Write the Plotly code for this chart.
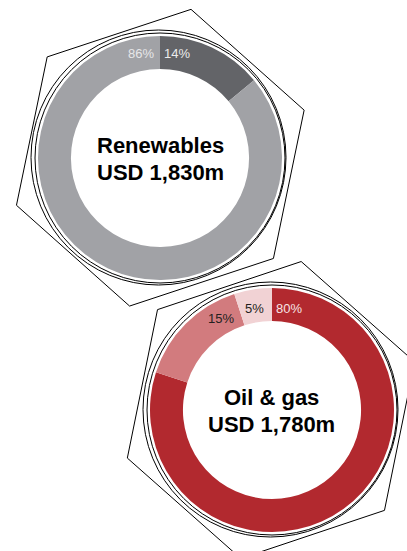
import math
import plotly.graph_objects as go

W, H = 407, 551

# Data
ren_labels = ["Share A", "Share B"]
ren_values = [14, 86]
ren_colors = ["#636468", "#a1a2a6"]
ren_title = ["Renewables", "USD 1,830m"]

og_labels = ["Share A", "Share B", "Share C"]
og_values = [80, 15, 5]
og_colors = ["#b2292f", "#d27b7e", "#f1d2d4"]
og_title = ["Oil & gas", "USD 1,780m"]

# layout geometry (pixels)
top_c = (160, 158)
bot_c = (272, 410)
R = 122
HOLE = 0.73

def domain(c, r):
    cx, cy = c
    return dict(x=[(cx - r) / W, (cx + r) / W], y=[1 - (cy + r) / H, 1 - (cy - r) / H])

fig = go.Figure()
fig.add_trace(go.Pie(labels=ren_labels, values=ren_values, hole=HOLE, sort=False,
                     direction="clockwise", rotation=0, textinfo="none", hoverinfo="label+percent",
                     marker=dict(colors=ren_colors, line=dict(width=0)),
                     domain=domain(top_c, R), showlegend=False))
fig.add_trace(go.Pie(labels=og_labels, values=og_values, hole=HOLE, sort=False,
                     direction="clockwise", rotation=0, textinfo="none", hoverinfo="label+percent",
                     marker=dict(colors=og_colors, line=dict(width=0)),
                     domain=domain(bot_c, R), showlegend=False))

shapes = []
def hexagon(c, r, rot):
    cx, cy = c
    pts = []
    for k in range(6):
        a = math.radians(rot + 60 * k)
        pts.append((cx + r * math.cos(a), cy - r * math.sin(a)))
    return "M " + " L ".join(f"{x:.2f},{y:.2f}" for x, y in pts) + " Z"

for c, hc, rot in [(top_c, (160.3, 157.7), 18.3), (bot_c, (271, 410), 18.5)]:
    cx, cy = c
    line = dict(color="black", width=1)
    shapes.append(dict(type="circle", xref="x", yref="y", x0=cx - 125, x1=cx + 125,
                       y0=cy - 125, y1=cy + 125, line=line))
    shapes.append(dict(type="circle", xref="x", yref="y", x0=cx - 1.5 - 127.5, x1=cx - 1.5 + 127.5,
                       y0=cy - 0.5 - 127.5, y1=cy - 0.5 + 127.5, line=line))
    shapes.append(dict(type="path", xref="x", yref="y", path=hexagon(hc, 151.5, rot), line=line))

ann = []
font_big = dict(family="Liberation Sans, Arial, sans-serif", size=22, color="black")
for c, title in [(top_c, ren_title), ((271, bot_c[1]), og_title)]:
    ann.append(dict(x=c[0], y=c[1] - 13, xref="x", yref="y", text=f"<b>{title[0]}</b>",
                    showarrow=False, font=font_big))
    ann.append(dict(x=c[0], y=c[1] + 14, xref="x", yref="y", text=f"<b>{title[1]}</b>",
                    showarrow=False, font=font_big))

small = "Liberation Sans, Arial, sans-serif"
pct = [
    (177, 53.5, f"{ren_values[0]}%", "#ececec"),
    (140.5, 53.5, f"{ren_values[1]}%", "#e6e6e8"),
    (288.5, 308.5, f"{og_values[0]}%", "#f6e3e4"),
    (221, 318.5, f"{og_values[1]}%", "#231f20"),
    (254, 308.5, f"{og_values[2]}%", "#231f20"),
]
for x, y, t, col in pct:
    ann.append(dict(x=x, y=y, xref="x", yref="y", text=t, showarrow=False,
                    font=dict(family=small, size=13, color=col)))

fig.update_layout(
    width=W, height=H, margin=dict(l=0, r=0, t=0, b=0),
    paper_bgcolor="white", plot_bgcolor="rgba(0,0,0,0)",
    xaxis=dict(range=[0, W], visible=False, fixedrange=True),
    yaxis=dict(range=[H, 0], visible=False, fixedrange=True),
    shapes=shapes, annotations=ann, showlegend=False,
)
fig.write_html("out.html")
